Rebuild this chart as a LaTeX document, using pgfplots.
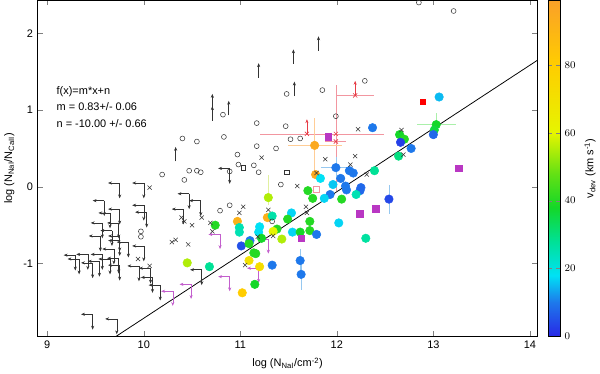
\documentclass[border=0pt]{standalone}
\usepackage{pgfplots}
\pgfplotsset{compat=1.18}
\usepackage{pgfplotstable}
\usepackage{fontspec}
\setmainfont{Liberation Sans}
\usetikzlibrary{arrows.meta}

\definecolor{mag}{RGB}{185,55,195}
\definecolor{magarr}{RGB}{195,95,205}
\definecolor{crossred}{RGB}{230,60,70}
\definecolor{redbar}{RGB}{242,150,160}
\definecolor{orbar}{RGB}{255,205,150}
\definecolor{grbar}{RGB}{170,240,170}
\definecolor{blbar}{RGB}{150,200,240}
\definecolor{ygbar}{RGB}{225,240,160}

% detections, coloured by v_dev
\pgfplotstableread{
x y v
13.06 1.17 15
12.37 0.77 10
13.03 0.81 38
13.01 0.74 36
13.00 0.68 8
12.65 0.68 38
12.70 0.62 40
12.66 0.58 3
12.77 0.50 10
12.64 0.40 30
12.39 0.21 28
11.77 0.54 95
11.78 0.16 95
11.83 0.11 18
11.99 0.25 10
12.13 0.21 10
12.17 0.18 10
12.04 0.11 10
11.96 0.03 16
12.09 0.01 10
12.10 -0.04 10
12.25 -0.01 8
12.24 -0.05 8
12.20 -0.10 25
12.05 -0.16 40
11.93 -0.10 10
11.87 -0.15 17
11.70 -0.05 40
11.75 -0.15 40
12.54 -0.16 4
11.53 -0.34 17
11.49 -0.42 40
11.29 -0.14 55
11.28 -0.40 92
11.33 -0.38 26
11.20 -0.52 18
11.19 -0.59 18
10.97 -0.45 92
10.99 -0.53 25
10.99 -0.59 25
11.38 -0.55 40
11.34 -0.58 60
11.54 -0.59 17
11.62 -0.59 38
11.72 -0.45 40
11.72 -0.57 40
11.79 -0.62 10
12.02 -0.47 17
12.30 -0.67 27
11.10 -0.70 10
11.01 -0.77 5
11.22 -0.67 38
11.43 -0.68 55
11.09 -0.74 40
11.14 -0.86 40
11.16 -0.87 40
11.09 -0.96 70
11.20 -1.04 72
11.33 -1.02 10
11.62 -0.96 10
11.63 -1.14 10
11.15 -1.27 38
11.02 -1.38 80
10.74 -0.50 40
10.45 -0.99 55
10.68 -1.04 28
}\detections

\pgfplotstableread{
x y
10.19 0.16
10.42 0.09
10.47 0.21
10.55 0.21
10.59 0.19
10.40 0.63
10.55 0.59
10.82 0.94
10.83 0.65
10.97 0.42
10.98 0.29
11.14 0.28
11.19 0.19
11.17 0.83
11.17 0.53
11.37 0.50
11.47 0.79
11.48 1.21
11.52 0.62
11.62 0.63
11.42 0.03
10.89 0.20
11.85 1.26
12.29 1.38
11.99 0.92
12.85 2.40
13.21 2.29
10.79 -0.31
10.89 -0.24
9.97 -0.58
9.97 -0.65
11.33 -0.45
}\opencirc

\pgfplotstableread{
x y
10.06 -0.01
11.22 0.38
11.03 -0.26
10.99 -0.34
10.39 -0.40
10.42 -0.45
10.50 -0.50
10.60 -0.40
10.69 -0.47
10.71 -0.58
10.29 -0.72
10.33 -0.69
10.46 -0.75
9.94 -0.94
10.06 -1.03
11.29 -0.30
11.05 -1.02
11.18 -0.65
11.34 -0.64
12.22 0.75
12.67 0.74
11.88 0.36
12.19 0.40
12.14 0.29
11.79 0.18
11.59 0.01
11.68 -0.26
11.69 -0.34
12.69 0.42
12.31 0.16
}\crosses

% upper limits in both quantities
\pgfplotstableread{
x y
9.75 0.05
10.00 0.05
9.59 -0.18
10.00 -0.24
9.75 -0.29
10.03 -0.33
9.65 -0.34
9.74 -0.47
9.57 -0.47
9.67 -0.57
9.55 -0.64
9.75 -0.64
9.75 -0.70
9.84 -0.72
10.00 -0.77
9.69 -0.81
9.57 -0.88
9.65 -0.94
9.29 -0.89
9.33 -0.94
9.42 -0.88
9.47 -0.99
9.54 -0.97
9.74 -0.93
9.75 -1.02
9.95 -1.03
10.07 -1.06
10.09 -1.18
10.17 -1.28
9.47 -1.66
9.72 -1.72
10.47 -0.09
10.59 -0.18
10.41 -0.29
10.60 -1.08
10.89 0.24
}\upperlim

\pgfplotstableread{
x y
10.79 -0.62
11.29 -0.68
11.19 -1.06
10.89 -1.17
10.49 -1.27
10.30 -1.36
}\magupper

\pgfplotstableread{
x y
11.81 1.77
11.55 1.60
11.19 1.42
11.56 1.18
10.71 0.86
10.71 1.02
10.88 0.93
10.33 0.33
}\lowerlim

\pgfplotstableread{
x y
12.19 1.19
11.69 0.69
11.99 0.69
11.99 0.59
}\redcross

\pgfplotsset{
    barsonly/.style={draw=none, mark=none, forget plot,
        error bars/.cd, x dir=both, x explicit, y dir=both, y explicit,
        error mark=none, error bar style={draw=#1, line width=0.5pt}},
}

\begin{document}
\begin{tikzpicture}[font=\fontsize{8.5}{10}\selectfont]
\begin{axis}[
    scale only axis,
    width=388pt, height=261pt,
    xmin=8.9, xmax=14.08,
    ymin=-1.95, ymax=2.43,
    xtick={9,10,11,12,13,14},
    ytick={-1,0,1,2},
    tick align=inside,
    major tick length=4pt,
    /pgf/number format/assume math mode=true,
    xlabel={log (N\textsubscript{NaI}/cm\textsuperscript{-2})},
    ylabel={log (N\textsubscript{NaI}/N\textsubscript{CaII})},
    colormap={vdev}{rgb255(0cm)=(40,40,230); rgb255(10cm)=(30,120,235); rgb255(18cm)=(0,225,245); rgb255(28cm)=(0,225,150); rgb255(38cm)=(20,215,40); rgb255(48cm)=(100,225,20); rgb255(60cm)=(230,245,0); rgb255(80cm)=(255,205,0); rgb255(99cm)=(250,160,40)},
    point meta min=0, point meta max=99,
    colorbar right,
    colorbar style={
        width=9pt,
        at={(parent axis.north east)}, anchor=north west,
        ytick={0,20,40,60,80},
        major tick length=3pt,
        ylabel={v\textsubscript{dev} (km s\textsuperscript{-1})},
    },
]

% error bars
\addplot[barsonly=redbar]
    coordinates {(12.19,1.19) +- (0.2,0) (11.69,0.69) +- (0.49,0)
    (11.99,0.69) += (0.50,0.64) -= (0.39,0.74) (11.99,0.59) +- (0.11,0)};
\addplot[barsonly=orbar] coordinates {(11.77,0.54) +- (0.28,0.35)};
\addplot[barsonly=grbar] coordinates {(13.03,0.81) +- (0.2,0.15)};
\addplot[barsonly=blbar]
    coordinates {(11.99,0.25) +- (0.15,0.14) (12.54,-0.16) +- (0,0.19)
    (11.62,-0.96) +- (0,0.15) (11.63,-1.14) +- (0,0.2)};
\addplot[barsonly=ygbar] coordinates {(11.29,-0.14) += (0,0.3) -= (0,0.1)};

% fit
\addplot[black, line width=0.6pt] coordinates {(9.71,-1.95) (14.08,1.65)};

% detections
\addplot[scatter, only marks, scatter src=explicit, mark=*, mark size=3.3pt,
    scatter/use mapped color={draw=mapped color, fill=mapped color}]
    table[x=x, y=y, meta=v] {\detections};

% magenta squares
\addplot[only marks, mark=square*, mark size=2.6pt, mag] coordinates
    {(11.91,0.65) (13.26,0.24) (12.24,-0.35) (12.40,-0.29) (11.63,-0.67)};
\addplot[only marks, mark=square*, mark size=1.8pt, red] coordinates {(12.89,1.11)};
\addplot[only marks, mark=square, mark size=2.2pt, redbar] coordinates {(11.79,-0.03)};

% black open circles, squares and crosses
\addplot[only marks, mark=o, mark size=1.9pt, black!80, line width=0.4pt] table {\opencirc};
\addplot[only marks, mark=square, mark size=1.8pt, black!80, line width=0.4pt] coordinates {(11.03,0.25) (11.48,0.19)};
\addplot[only marks, mark=x, mark size=2.3pt, black!80, line width=0.4pt] table {\crosses};
\addplot[only marks, mark=x, mark size=2.3pt, color=crossred, line width=0.5pt] table {\redcross};

% limits
\addplot[quiver={u=-0.12, v=0}, black!80, line width=0.4pt, -{Stealth[length=3pt,width=2.4pt]}] table {\upperlim};
\addplot[quiver={u=0, v=-0.2}, black!80, line width=0.4pt, -{Stealth[length=3pt,width=2.4pt]}] table {\upperlim};
\addplot[quiver={u=-0.12, v=0}, magarr, line width=0.4pt, -{Stealth[length=3pt,width=2.4pt]}] table {\magupper};
\addplot[quiver={u=0, v=-0.19}, magarr, line width=0.4pt, -{Stealth[length=3pt,width=2.4pt]}] table {\magupper};
\addplot[quiver={u=0, v=0.19}, black!80, line width=0.4pt, -{Stealth[length=3pt,width=2.4pt]}] table {\lowerlim};
\addplot[quiver={u=0, v=0.19}, color=crossred, line width=0.4pt, -{Stealth[length=3pt,width=2.4pt]}] coordinates {(12.19,1.19) (11.69,0.69)};

\node[anchor=west] at (axis cs:9.05,1.245) {f(x)=m*x+n};
\node[anchor=west] at (axis cs:9.05,1.04) {m = 0.83+/- 0.06};
\node[anchor=west] at (axis cs:9.05,0.83) {n = -10.00 +/- 0.66};
\end{axis}
\end{tikzpicture}
\end{document}
